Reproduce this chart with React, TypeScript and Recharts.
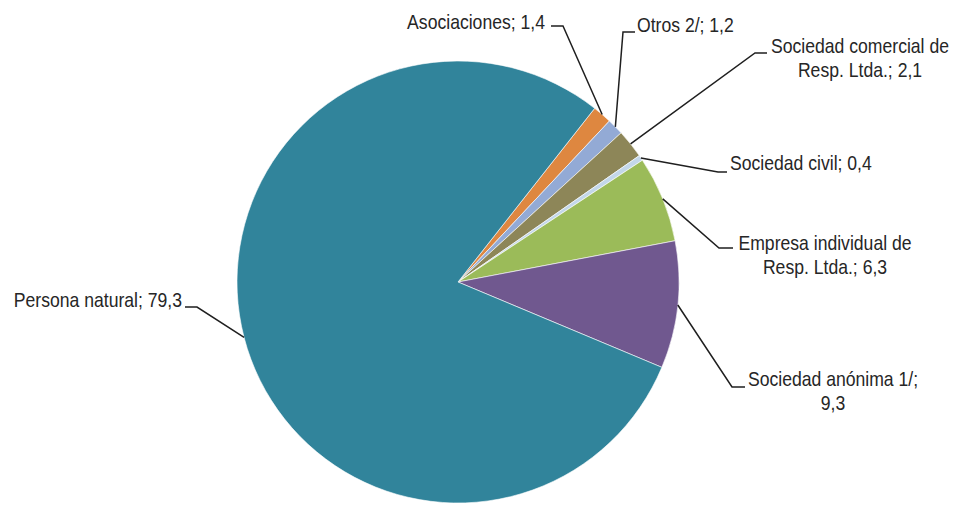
import React from "react";
import { PieChart, Pie, Cell } from "recharts";

// Datos del gráfico (porcentajes por organización jurídica)
const categories = [
  "Asociaciones",
  "Otros 2/",
  "Sociedad comercial de Resp. Ltda.",
  "Sociedad civil",
  "Empresa individual de Resp. Ltda.",
  "Sociedad anónima 1/",
  "Persona natural",
];
const shares = [1.4, 1.2, 2.1, 0.4, 6.3, 9.3, 79.3];

// Textos de las etiquetas, línea por línea
const labelLines = [
  ["Asociaciones; 1,4"],
  ["Otros 2/; 1,2"],
  ["Sociedad comercial de", "Resp. Ltda.; 2,1"],
  ["Sociedad civil; 0,4"],
  ["Empresa individual de", "Resp. Ltda.; 6,3"],
  ["Sociedad anónima 1/;", "9,3"],
  ["Persona natural; 79,3"],
];

const colors = ["#DE8740", "#93AAD5", "#8D8658", "#C3D7EA", "#9BBB59", "#70588F", "#31849B"];

// Posición de cada etiqueta y de su línea guía (codo y final)
const labelLayout = [
  { x: 545, y: 29, anchor: "end", elbow: [563, 26], end: [551, 26] },
  { x: 637, y: 32, anchor: "start", elbow: [623, 32], end: [635, 32] },
  { x: 860, y: 53, anchor: "middle", elbow: [755, 53], end: [767, 53] },
  { x: 730, y: 170, anchor: "start", elbow: [718, 172], end: [727, 172] },
  { x: 825, y: 250, anchor: "middle", elbow: [719, 248], end: [733, 248] },
  { x: 833, y: 386, anchor: "middle", elbow: [732, 387], end: [745, 387] },
  { x: 182, y: 307, anchor: "end", elbow: [197, 307], end: [185, 307] },
];

const data = categories.map((name, i) => ({ name, value: shares[i] }));

// Arial Narrow no está instalada: uso Liberation Sans comprimida en horizontal
const FONT = "'Liberation Sans', Arial, sans-serif";
const NARROW = 0.88;

const renderLabel = (props: any) => {
  const { cx, cy, midAngle, outerRadius } = props;
  const index = props.index ?? categories.indexOf(props.name);
  const L = labelLayout[index];
  const RAD = Math.PI / 180;
  const sx = cx + outerRadius * Math.cos(-midAngle * RAD);
  const sy = cy + outerRadius * Math.sin(-midAngle * RAD);
  return (
    <g key={`lbl-${index}`}>
      <polyline
        points={`${sx},${sy} ${L.elbow[0]},${L.elbow[1]} ${L.end[0]},${L.end[1]}`}
        fill="none"
        stroke="#1f1f1f"
        strokeWidth={1.5}
      />
      <text
        transform={`translate(${L.x},${L.y}) scale(${NARROW},1)`}
        textAnchor={L.anchor}
        fontSize={20}
        fontFamily={FONT}
        fill="#262626"
      >
        {labelLines[index].map((t, i) => (
          <tspan key={i} x={0} dy={i === 0 ? 0 : 24}>
            {t}
          </tspan>
        ))}
      </text>
    </g>
  );
};

const App: React.FC = () => {
  return (
    <div style={{ position: "absolute", left: 0, top: 0, background: "#fff" }}>
      <PieChart width={954} height={507} margin={{ top: 0, right: 0, bottom: 0, left: 0 }}>
        <Pie
          data={data}
          dataKey="value"
          nameKey="name"
          cx={458}
          cy={282}
          outerRadius={221}
          startAngle={51.8}
          endAngle={-308.2}
          stroke="#ffffff"
          strokeWidth={0.6}
          label={renderLabel}
          labelLine={false}
          isAnimationActive={false}
        >
          {data.map((entry, i) => (
            <Cell key={entry.name} fill={colors[i]} />
          ))}
        </Pie>
      </PieChart>
    </div>
  );
};

export default App;
